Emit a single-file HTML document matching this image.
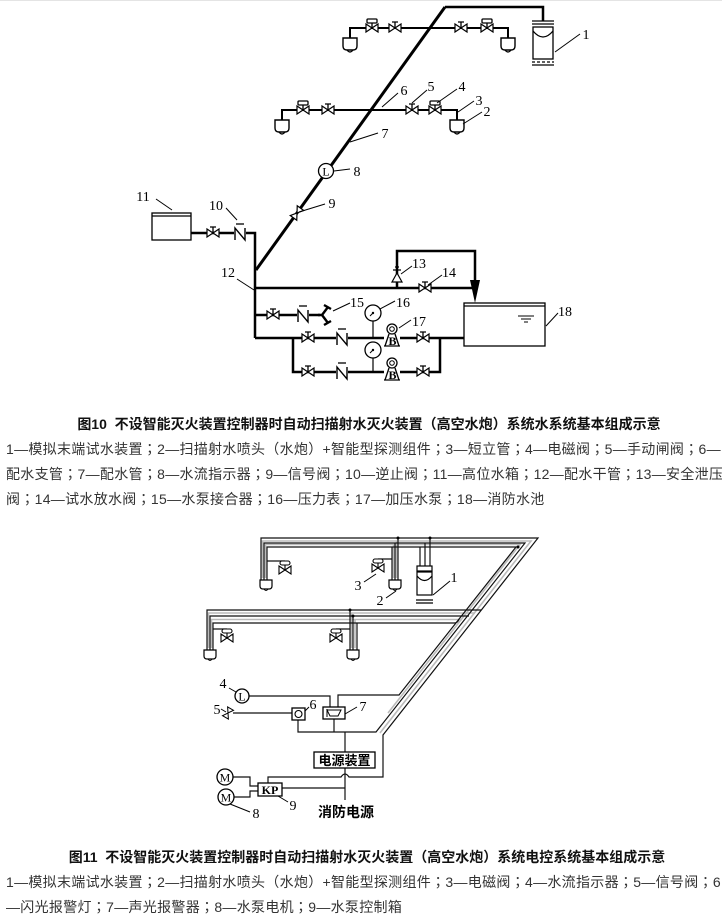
<!DOCTYPE html>
<html><head><meta charset="utf-8">
<style>
html,body{margin:0;padding:0;background:#fff;}
body{width:722px;height:917px;position:relative;overflow:hidden;font-family:"Liberation Sans","Noto Sans CJK SC",sans-serif;}
svg{position:absolute;left:0;top:0;}
.cap{position:absolute;left:0;width:722px;text-align:center;font-weight:bold;font-size:14px;line-height:25px;color:#111;white-space:nowrap;}
.leg{position:absolute;left:6px;font-size:14px;line-height:25px;color:#333;white-space:nowrap;letter-spacing:0.3px;}
.p{font-family:"Noto Sans CJK TC","Noto Sans CJK SC",sans-serif;}
</style></head><body>
<svg width="722" height="917" viewBox="0 0 722 917" xmlns="http://www.w3.org/2000/svg">
<defs>
<g id="bow"><path d="M-6,-4 L0,0 L-6,4 Z M6,-4 L0,0 L6,4 Z" fill="#fff" stroke="#000" stroke-width="1.2"/></g>
<g id="gate"><path d="M-6,-4 L0,0 L-6,4 Z M6,-4 L0,0 L6,4 Z" fill="#fff" stroke="#000" stroke-width="1.2"/><path d="M0,0 V-6 M-3,-6 H3" stroke="#000" stroke-width="1.3" fill="none"/></g>
<g id="sol"><path d="M-6,-4 L0,0 L-6,4 Z M6,-4 L0,0 L6,4 Z" fill="#fff" stroke="#000" stroke-width="1.2"/><path d="M0,0 V-5" stroke="#000" stroke-width="1.3"/><rect x="-5" y="-9" width="10" height="4" rx="1" fill="#fff" stroke="#000" stroke-width="1.3"/></g>
<g id="chk"><rect x="-6" y="-7" width="12" height="14" fill="#fff"/><path d="M-5,7 V-5 L5,7 V-5" fill="none" stroke="#000" stroke-width="1.4"/><path d="M-4,-9 H4" stroke="#000" stroke-width="1.3"/></g>
<g id="spr"><path d="M-7,0 H7 V8 Q7,12 3,12 H-3 Q-7,12 -7,8 Z" fill="#fff" stroke="#000" stroke-width="1.4"/><path d="M-3,12 Q0,16 3,12" fill="none" stroke="#000" stroke-width="1.2"/></g>
<g id="spr2"><path d="M-6,0 H6 V6 Q6,9 3,9 H-3 Q-6,9 -6,6 Z" fill="#fff" stroke="#000" stroke-width="1.2"/><path d="M-2,9 Q0,12 2,9" fill="none" stroke="#000" stroke-width="1"/></g>
<g id="gauge"><circle r="8" fill="#fff" stroke="#000" stroke-width="1.3"/><circle r="1.2" fill="#000"/><path d="M0,0 L-3,3" stroke="#000" stroke-width="1"/></g>
<g id="pump"><circle cx="0" cy="-8" r="5" fill="#fff" stroke="#000" stroke-width="1.3"/><circle cx="0" cy="-8" r="2.3" fill="none" stroke="#000" stroke-width="1"/><path d="M-7,9 L-3,-3 M7,9 L3,-3 M-8,9 H8" stroke="#000" stroke-width="1.3" fill="none"/><text x="0.5" y="8" text-anchor="middle" font-family="Liberation Serif" font-weight="bold" font-size="12">B</text></g>
<g id="ev"><path d="M-6,-4 L0,0 L-6,4 Z M6,-4 L0,0 L6,4 Z" fill="#fff" stroke="#000" stroke-width="1.1"/><path d="M0,0 V-5" stroke="#000" stroke-width="1.1"/><rect x="-5" y="-9" width="10" height="4" rx="2" fill="#fff" stroke="#000" stroke-width="1.1"/></g>
</defs>

<line x1="0" y1="0.5" x2="722" y2="0.5" stroke="#e4e4e4" stroke-width="1"/>

<!-- ===== TOP DIAGRAM ===== -->
<g stroke="#000" fill="none">
<path d="M445,7 L256,270" stroke-width="3"/>
<path d="M445,7 H543 V21" stroke-width="2.5"/>
<path d="M350,38 V28 H508 V38" stroke-width="2"/>
<path d="M282,120 V110 H457 V120" stroke-width="2"/>
<path d="M191,233 H255 V338" stroke-width="2.5"/>
<path d="M255,288 H475" stroke-width="2.5"/>
<path d="M397,288 V251 H475 V284" stroke-width="2.5"/>
<path d="M255,315 H320" stroke-width="2.5"/>
<path d="M255,338 H464" stroke-width="2.5"/>
<path d="M293,338 V372 H440 V338" stroke-width="2.5"/>
</g>
<path d="M470,280 L480,280 L475,303 Z" fill="#000"/>

<!-- item 1 -->
<g stroke="#000" stroke-width="1.3" fill="none">
<path d="M532,21 H554 M532,24 H554"/>
<rect x="533" y="27" width="20" height="32" fill="#fff"/>
<path d="M533,31 Q543,43 553,31"/>
<path d="M532,62 H554" stroke-dasharray="3,2"/>
<path d="M532,65 H554"/>
</g>

<!-- sprinklers -->
<use href="#spr" transform="translate(350,38)"/>
<use href="#spr" transform="translate(508,38)"/>
<use href="#spr" transform="translate(282,120)"/>
<use href="#spr" transform="translate(457,120)"/>

<!-- branch valves -->
<use href="#sol" transform="translate(372,28)"/>
<use href="#gate" transform="translate(395,28)"/>
<use href="#gate" transform="translate(461,28)"/>
<use href="#sol" transform="translate(487,28)"/>
<use href="#sol" transform="translate(303,110)"/>
<use href="#gate" transform="translate(328,110)"/>
<use href="#gate" transform="translate(412,110)"/>
<use href="#sol" transform="translate(435,110)"/>

<!-- flow indicator 8 -->
<circle cx="326" cy="171" r="7.5" fill="#fff" stroke="#000" stroke-width="1.3"/>
<text x="326" y="175.5" text-anchor="middle" font-family="Liberation Serif" font-size="12">L</text>
<!-- signal valve 9 -->
<use href="#bow" transform="translate(297,213) rotate(-54.4)"/>

<!-- item 11 tank -->
<rect x="152" y="213" width="39" height="27" fill="#fff" stroke="#000" stroke-width="1.3"/>
<line x1="152" y1="216" x2="191" y2="216" stroke="#000" stroke-width="1.2"/>
<use href="#gate" transform="translate(213,233)"/>
<use href="#chk" transform="translate(240,233)"/>

<!-- safety valve 13 -->
<path d="M392,282 L402,282 L397,273 Z" fill="#fff" stroke="#000" stroke-width="1.2"/>
<path d="M393,270 H401 M395,267 H399" stroke="#000" stroke-width="1.2"/>
<use href="#gate" transform="translate(425,288)"/>

<!-- row 15 -->
<use href="#gate" transform="translate(273,315)"/>
<use href="#chk" transform="translate(303,315)"/>
<path d="M318,315 H322 M322,315 L328,307 M322,315 L328,323 M324,305 L331,309 M324,325 L331,321" stroke="#000" stroke-width="2.4" fill="none"/>

<!-- pump rows -->
<path d="M373,321 V338 M373,358 V372" stroke="#000" stroke-width="1.2"/>
<use href="#gauge" transform="translate(373,313)"/>
<use href="#gauge" transform="translate(373,350)"/>
<use href="#gate" transform="translate(308,338)"/>
<use href="#chk" transform="translate(342,338)"/>
<use href="#gate" transform="translate(423,338)"/>
<use href="#gate" transform="translate(308,372)"/>
<use href="#chk" transform="translate(342,372)"/>
<use href="#gate" transform="translate(423,372)"/>
<rect x="384" y="329" width="16" height="17" fill="#fff"/>
<rect x="384" y="363" width="16" height="17" fill="#fff"/>
<use href="#pump" transform="translate(392,337)"/>
<use href="#pump" transform="translate(392,371)"/>

<!-- pool 18 -->
<rect x="464" y="303" width="81" height="43" fill="#fff" stroke="#000" stroke-width="1.3"/>
<line x1="464" y1="306" x2="545" y2="306" stroke="#000" stroke-width="1.2"/>
<path d="M518,316 H534 M521,319 H531 M524,322 H528" stroke="#000" stroke-width="1"/>

<!-- top leaders -->
<g stroke="#000" stroke-width="1" fill="none">
<path d="M555,52 L580,34"/>
<path d="M463,124 L482,112"/>
<path d="M458,112 L474,101"/>
<path d="M437,103 L457,89"/>
<path d="M412,103 L427,90"/>
<path d="M382,107 L398,93"/>
<path d="M350,142 L378,133"/>
<path d="M334,171 L350,169"/>
<path d="M299,212 L325,204"/>
<path d="M226,208 L237,220"/>
<path d="M156,199 L172,210"/>
<path d="M237,279 L254,290"/>
<path d="M401,274 L412,266"/>
<path d="M428,285 L442,275"/>
<path d="M333,311 L350,303"/>
<path d="M380,309 L395,301"/>
<path d="M399,328 L411,320"/>
<path d="M546,326 L558,313"/>
</g>
<g font-family="Liberation Serif" font-size="14" text-anchor="middle" fill="#000">
<text x="586" y="39">1</text>
<text x="487" y="116">2</text>
<text x="479" y="105">3</text>
<text x="462" y="91">4</text>
<text x="431" y="91">5</text>
<text x="404" y="95">6</text>
<text x="385" y="138">7</text>
<text x="357" y="176">8</text>
<text x="332" y="208">9</text>
<text x="216" y="210">10</text>
<text x="143" y="201">11</text>
<text x="228" y="277">12</text>
<text x="419" y="268">13</text>
<text x="449" y="277">14</text>
<text x="357" y="307">15</text>
<text x="403" y="307">16</text>
<text x="419" y="326">17</text>
<text x="565" y="316">18</text>
</g>

<!-- ===== BOTTOM DIAGRAM ===== -->
<g stroke="#bbb" stroke-width="1.6" fill="none">
<path d="M262.5,578 V541 H531 L380,733"/>
<path d="M265.5,578 V544.5 H520 L388,713"/>
<path d="M208.5,648 V613 H475"/>
<path d="M211.5,648 V619.5 H462"/>
<path d="M393.5,578 V545 M396.5,578 V541"/>
<path d="M351.5,648 V613 M355,648 V619.5"/>
</g>
<g stroke="#111" stroke-width="1.2" fill="none">
<path d="M261,580 V538 H538 L383,735 V777 H349 Q345,771 341,777 H268 V783"/>
<path d="M264,580 V543 H525 L376,732 H298 V720"/>
<path d="M267,580 V547 H516 L399,695 H338 V707"/>
<path d="M207,650 V610 H481"/>
<path d="M210,650 V616 H469"/>
<path d="M213,650 V623 H454 Q458,623 459,619"/>
<path d="M350,610 V650 M353,616 V650 M357,623 V650"/>
<path d="M392,547 V580 M395,543 V580 M398,538 V580"/>
<path d="M420,547 V566 M425,543 V566 M430,538 V566"/>
<path d="M267,561 H285 M392,559 H378 M213,629 H227 M350,629 H336"/>
</g>
<g fill="#000">
<circle cx="398" cy="538" r="1.5"/><circle cx="430" cy="538" r="1.5"/>
<circle cx="353" cy="616" r="1.5"/><circle cx="350" cy="610" r="1.5"/>
<circle cx="518" cy="547" r="1.5"/>
</g>
<use href="#spr2" transform="translate(266,580)"/>
<use href="#spr2" transform="translate(395,580)"/>
<use href="#spr2" transform="translate(210,650)"/>
<use href="#spr2" transform="translate(353,650)"/>
<use href="#ev" transform="translate(285,570)"/>
<use href="#ev" transform="translate(378,568)"/>
<use href="#ev" transform="translate(227,638)"/>
<use href="#ev" transform="translate(336,638)"/>

<!-- device 1 bottom -->
<g stroke="#000" stroke-width="1.2" fill="#fff">
<rect x="417" y="566" width="15" height="5"/>
<rect x="417" y="572" width="15" height="23"/>
<path d="M417,576 Q424.5,585 432,576" fill="none"/>
<path d="M416,600 H433 M416,603 H433" fill="none"/>
</g>

<!-- circuit -->
<g stroke="#111" stroke-width="1.2" fill="none">
<path d="M249,696 H330 V707"/>
<path d="M233,713 H292"/>
<path d="M334,719 V732"/>
<path d="M345,732 V752"/>
<path d="M345,768 V800"/>
<path d="M282,788 H345"/>
<path d="M233,777 H250 V786 H258"/>
<path d="M234,797 H250 V791 H258"/>
</g>
<circle cx="242" cy="696" r="7" fill="#fff" stroke="#000" stroke-width="1.3"/>
<text x="242" y="700.5" text-anchor="middle" font-family="Liberation Serif" font-size="12">L</text>
<use href="#bow" transform="translate(228,713) rotate(-60) scale(0.85)"/>
<rect x="292" y="708" width="13" height="12" fill="#fff" stroke="#000" stroke-width="1.3"/>
<circle cx="298.5" cy="714" r="3.5" fill="none" stroke="#000" stroke-width="1.1"/>
<rect x="323" y="707" width="22" height="12" fill="#fff" stroke="#000" stroke-width="1.3"/>
<path d="M327,710 H341 L338,716 H330 Z M327,709 V717" fill="none" stroke="#000" stroke-width="1"/>
<rect x="314" y="752" width="61" height="16" fill="#fff" stroke="#000" stroke-width="1.3"/>
<text x="344.5" y="765" text-anchor="middle" font-family="'Noto Sans CJK SC',sans-serif" font-weight="bold" font-size="13">电源装置</text>
<rect x="258" y="783" width="24" height="13" fill="#fff" stroke="#000" stroke-width="1.3"/>
<text x="270" y="794" text-anchor="middle" font-family="Liberation Serif" font-weight="bold" font-size="12">KP</text>
<circle cx="225" cy="777" r="8" fill="#fff" stroke="#000" stroke-width="1.3"/>
<text x="225" y="781.5" text-anchor="middle" font-family="Liberation Serif" font-size="12">M</text>
<circle cx="226" cy="797" r="8" fill="#fff" stroke="#000" stroke-width="1.3"/>
<text x="226" y="801.5" text-anchor="middle" font-family="Liberation Serif" font-size="12">M</text>
<text x="346" y="817" text-anchor="middle" font-family="'Noto Sans CJK SC',sans-serif" font-weight="bold" font-size="14">消防电源</text>

<g stroke="#000" stroke-width="1" fill="none">
<path d="M229,688 L236,692"/>
<path d="M221,709 L226,712"/>
<path d="M305,711 L309,707"/>
<path d="M345,714 L357,707"/>
<path d="M230,804 L250,812"/>
<path d="M278,796 L288,802"/>
<path d="M433,595 L450,581"/>
<path d="M386,598 L396,591"/>
<path d="M364,582 L376,574"/>
</g>
<g font-family="Liberation Serif" font-size="14" text-anchor="middle" fill="#000">
<text x="223" y="688">4</text>
<text x="217" y="714">5</text>
<text x="313" y="709">6</text>
<text x="363" y="711">7</text>
<text x="256" y="818">8</text>
<text x="293" y="810">9</text>
<text x="454" y="582">1</text>
<text x="380" y="605">2</text>
<text x="358" y="590">3</text>
</g>
</svg>

<div class="cap" style="top:412px;padding-left:16px;width:706px;">图10&nbsp; 不设智能灭火装置控制器时自动扫描射水灭火装置（高空水炮）系统水系统基本组成示意</div>
<div class="leg" style="top:437px;">1—模拟末端试水装置<span class="p">；</span>2—扫描射水喷头（水炮）+智能型探测组件<span class="p">；</span>3—短立管<span class="p">；</span>4—电磁阀<span class="p">；</span>5—手动闸阀<span class="p">；</span>6—<br>配水支管<span class="p">；</span>7—配水管<span class="p">；</span>8—水流指示器<span class="p">；</span>9—信号阀<span class="p">；</span>10—逆止阀<span class="p">；</span>11—高位水箱<span class="p">；</span>12—配水干管<span class="p">；</span>13—安全泄压<br>阀<span class="p">；</span>14—试水放水阀<span class="p">；</span>15—水泵接合器<span class="p">；</span>16—压力表<span class="p">；</span>17—加压水泵<span class="p">；</span>18—消防水池</div>

<div class="cap" style="top:845px;padding-left:12px;width:710px;">图11&nbsp; 不设智能灭火装置控制器时自动扫描射水灭火装置（高空水炮）系统电控系统基本组成示意</div>
<div class="leg" style="top:870px;">1—模拟末端试水装置<span class="p">；</span>2—扫描射水喷头（水炮）+智能型探测组件<span class="p">；</span>3—电磁阀<span class="p">；</span>4—水流指示器<span class="p">；</span>5—信号阀<span class="p">；</span>6<br>—闪光报警灯<span class="p">；</span>7—声光报警器<span class="p">；</span>8—水泵电机<span class="p">；</span>9—水泵控制箱</div>
</body></html>
